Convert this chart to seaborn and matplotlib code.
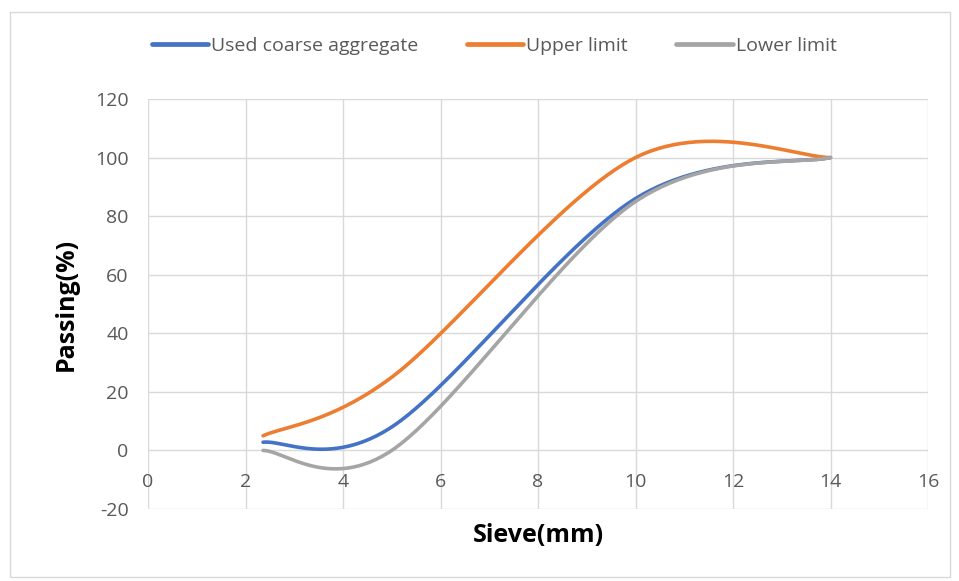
import numpy as np
import pandas as pd
import matplotlib
matplotlib.use("Agg")
import matplotlib.pyplot as plt
import seaborn as sns
from matplotlib.patches import Rectangle

sns.set_theme(style="white")
plt.rcParams['font.family'] = ['Open Sans', 'DejaVu Sans']
plt.rcParams['axes.unicode_minus'] = False

# Data (sieve sizes in mm, % passing)
sieve = [2.36, 5, 10, 14]
used_coarse = [2.8, 8, 86, 100]
upper_limit = [5, 25, 100, 100]
lower_limit = [0, 0, 85, 100]

series_names = ["Used coarse aggregate", "Upper limit", "Lower limit"]
series_vals = [used_coarse, upper_limit, lower_limit]
colors = ["#4472C4", "#ED7D31", "#A5A5A5"]

# Excel-style smoothing (Bezier through points, computed in screen-like scale)
SX, SY = 48.75, 2.93


def excel_smooth(xs, ys, n=60):
    P = np.column_stack([np.array(xs) * SX, np.array(ys) * SY])
    m = len(P)
    out = []
    for i in range(m - 1):
        p0 = P[i]
        p3 = P[i + 1]
        prev = P[i - 1] if i > 0 else P[i]
        nxt = P[i + 2] if i + 2 < m else P[i + 1]
        c1 = p0 + (p3 - prev) / 6.0
        c2 = p3 - (nxt - p0) / 6.0
        t = np.linspace(0, 1, n)[:, None]
        seg = ((1 - t) ** 3) * p0 + 3 * ((1 - t) ** 2) * t * c1 + 3 * (1 - t) * t ** 2 * c2 + t ** 3 * p3
        if i > 0:
            seg = seg[1:]
        out.append(seg)
    out = np.vstack(out)
    return out[:, 0] / SX, out[:, 1] / SY


fig = plt.figure(figsize=(9.59, 5.81), dpi=100)
ax = fig.add_axes([148 / 959, 1 - 509 / 581, (928 - 148) / 959, (509 - 99) / 581])

for name, vals, c in zip(series_names, series_vals, colors):
    sx, sy = excel_smooth(sieve, vals)
    df = pd.DataFrame({"x": sx, "y": sy})
    sns.lineplot(data=df, x="x", y="y", sort=False, ax=ax, color=c, lw=2.6,
                 label=name, solid_capstyle="round")

ax.set_xlim(0, 16)
ax.set_ylim(-20, 120)
ax.set_xticks(np.arange(0, 17, 2))
ax.set_yticks(np.arange(-20, 121, 20))
ax.grid(True, color="#D9D9D9", lw=1)
ax.set_axisbelow(True)
for s in ax.spines.values():
    s.set_visible(False)
ax.spines['bottom'].set_position(('data', 0))
ax.tick_params(axis='both', length=0, labelsize=14, colors="#595959")
ax.tick_params(axis='x', pad=16)
ax.tick_params(axis='y', pad=14)

ax.set_xlabel("")
ax.set_ylabel("")
fig.text(538 / 959, 1 - 535 / 581, "Sieve(mm)", ha="center", va="center",
         fontsize=18, fontweight="bold", color="black")
fig.text(66 / 959, 1 - 304 / 581, "Passing(%)", ha="center", va="center",
         fontsize=18, fontweight="bold", color="black", rotation=90)

leg = ax.legend(loc="center", bbox_to_anchor=(494 / 959, 1 - 46 / 581),
                bbox_transform=fig.transFigure, ncol=3, frameon=False,
                fontsize=14, handlelength=2.9, handletextpad=0.15,
                columnspacing=2.5)
for t in leg.get_texts():
    t.set_color("#595959")
for l in leg.get_lines():
    l.set_linewidth(3.4)

fig.add_artist(Rectangle((10 / 959, 1 - 577 / 581), 940 / 959, 565 / 581,
                         transform=fig.transFigure, fill=False,
                         edgecolor="#D9D9D9", lw=1))

fig.savefig("out.png", dpi=100)
